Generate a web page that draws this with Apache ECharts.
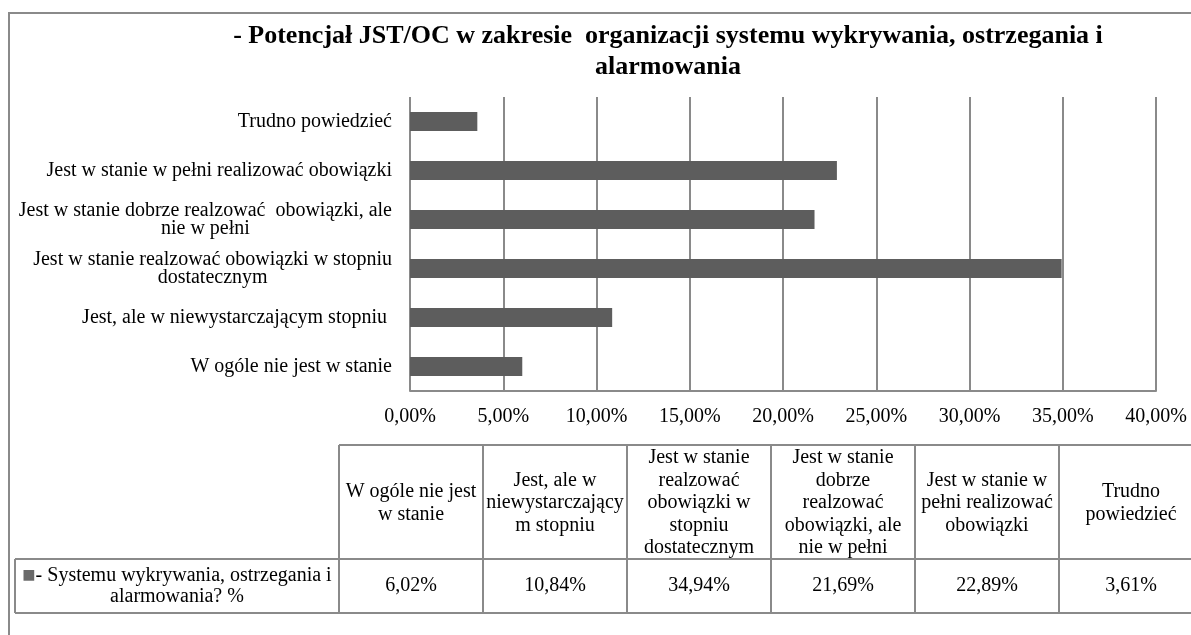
<!DOCTYPE html>
<html>
<head>
<meta charset="utf-8">
<script src="https://cdn.jsdelivr.net/npm/echarts@6/dist/echarts.min.js"></script>
<style>html,body{margin:0;padding:0;background:#fff}#c{width:1191px;height:635px}</style>
</head>
<body>
<div id="c"></div>
<script>
// ---- data ----
const titleText = '- Potencjał JST/OC w zakresie  organizacji systemu wykrywania, ostrzegania i\nalarmowania';
const categories = [
  'W ogóle nie jest w stanie',
  'Jest, ale w niewystarczającym stopniu ',
  'Jest w stanie realzować obowiązki w stopniu\ndostatecznym',
  'Jest w stanie dobrze realzować  obowiązki, ale\nnie w pełni',
  'Jest w stanie w pełni realizować obowiązki',
  'Trudno powiedzieć'
];
const tableHeaders = [
  'W ogóle nie jest\nw stanie',
  'Jest, ale w\nniewystarczający\nm stopniu',
  'Jest w stanie\nrealzować\nobowiązki w\nstopniu\ndostatecznym',
  'Jest w stanie\ndobrze\nrealzować\nobowiązki, ale\nnie w pełni',
  'Jest w stanie w\npełni realizować\nobowiązki',
  'Trudno\npowiedzieć'
];
const seriesName = '- Systemu wykrywania, ostrzegania i\nalarmowania? %';
const values = [6.02, 10.84, 34.94, 21.69, 22.89, 3.61];
const xTicks = [0, 5, 10, 15, 20, 25, 30, 35, 40];

// ---- chart ----
const FONT = '"Liberation Serif", "Times New Roman", serif';
const FS = 20;
const fmtPct = v => v.toFixed(2).replace('.', ',') + '%';
const LINE = '#8a8a8a';

const graphic = [];
graphic.push({type:'rect', z:-10, shape:{x:9,y:13,width:1220,height:700}, style:{fill:'none', stroke:LINE, lineWidth:2}});
const T_X0 = 339, COLW = 144, HTOP = 445, HBOT = 559, RBOT = 613, LEG_X = 15, TEND = 1210;
function hline(x1,x2,y){graphic.push({type:'line', shape:{x1,y1:y,x2,y2:y}, style:{stroke:LINE, lineWidth:2}});}
function vline(x,y1,y2){graphic.push({type:'line', shape:{x1:x,y1,x2:x,y2}, style:{stroke:LINE, lineWidth:2}});}
hline(T_X0, TEND, HTOP);
hline(LEG_X, TEND, HBOT);
hline(LEG_X, TEND, RBOT);
vline(LEG_X, HBOT, RBOT);
for (let i = 0; i <= tableHeaders.length; i++) vline(T_X0 + i*COLW, HTOP, RBOT);
tableHeaders.forEach((h, i) => {
  const cx = T_X0 + i*COLW + COLW/2;
  graphic.push({type:'text', x:cx, y:(HTOP+HBOT)/2 + 1, style:{text:h, font:FS+'px '+FONT, fill:'#000', align:'center', verticalAlign:'middle', lineHeight:22.5}});
  graphic.push({type:'text', x:cx, y:(HBOT+RBOT)/2, style:{text:fmtPct(values[i]), font:FS+'px '+FONT, fill:'#000', align:'center', verticalAlign:'middle'}});
});
const legLines = seriesName.split('\n');
graphic.push({type:'text', x:(LEG_X+T_X0)/2, y:(HBOT+RBOT)/2, style:{
  text:'{sq|■}{t|' + legLines[0] + '}\n{t|' + legLines[1] + '}',
  align:'center', verticalAlign:'middle',
  rich:{
    sq:{fill:'#6a6a6a', fontSize:14, fontFamily:'DejaVu Sans', lineHeight:21, align:'center'},
    t:{fill:'#000', fontSize:FS, fontFamily:FONT, lineHeight:21, align:'center'}
  }
}});

const chart = echarts.init(document.getElementById('c'), null, {renderer:'canvas'});
chart.setOption({
  animation:false,
  backgroundColor:'#fff',
  title:{
    text:titleText, left:668, top:21, padding:0, textAlign:'center',
    textStyle:{fontFamily:FONT, fontWeight:'bold', fontSize:26, color:'#000', lineHeight:31}
  },
  grid:{left:410, right:35, top:97, bottom:244, containLabel:false},
  xAxis:{
    type:'value', min:xTicks[0], max:xTicks[xTicks.length-1], interval:xTicks[1]-xTicks[0],
    axisLine:{show:true, lineStyle:{color:LINE, width:2}},
    axisTick:{show:false},
    splitLine:{show:true, lineStyle:{color:LINE, width:2}},
    axisLabel:{formatter:fmtPct, fontFamily:FONT, fontSize:FS, color:'#000', margin:16}
  },
  yAxis:{
    type:'category', data:categories,
    axisLine:{show:false}, axisTick:{show:false},
    axisLabel:{
      margin:18, color:'#000',
      formatter: v => v.split('\n').map(l => '{c|' + l + '}').join('\n'),
      rich:{c:{align:'center', fontFamily:FONT, fontSize:FS, lineHeight:18, color:'#000'}}
    }
  },
  series:[{
    type:'bar', data:values, barWidth:19, itemStyle:{color:'#5d5d5d'}, silent:true
  }],
  graphic:graphic
});
</script>
</body>
</html>
